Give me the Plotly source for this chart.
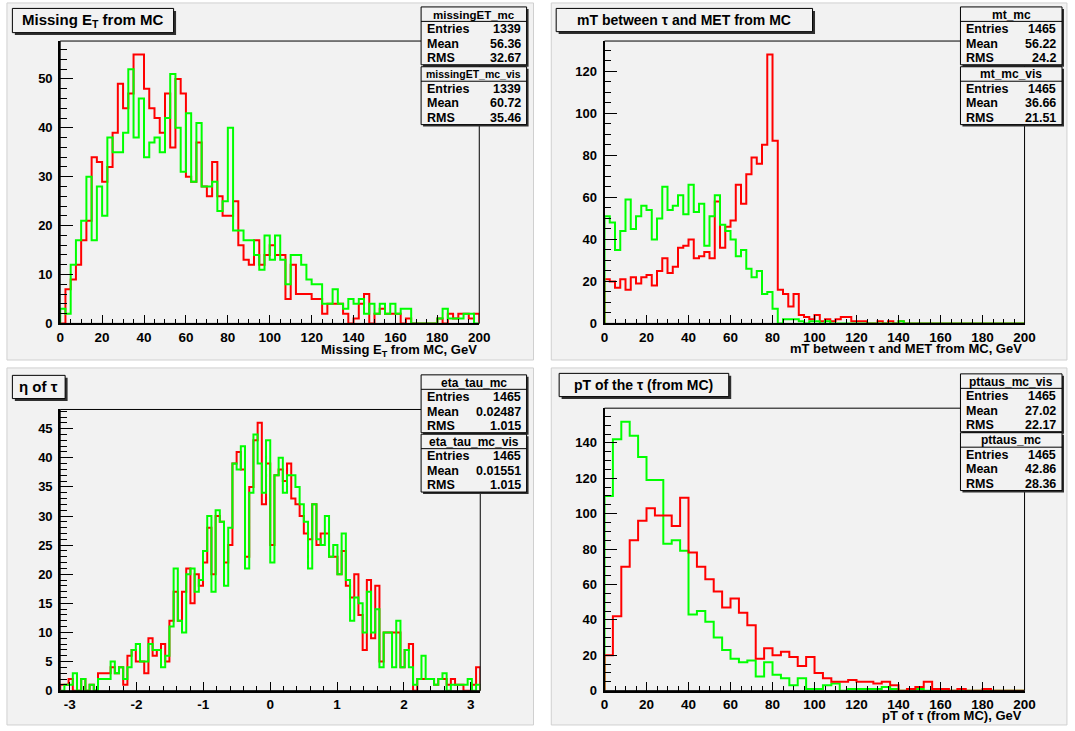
import plotly.graph_objects as go

W, H = 1075, 731

# ---------------- data ----------------
met_edges_range = (0.0, 200.0)
missingET_mc = [0, 7, 9, 12, 17, 21, 34, 33, 29, 32, 39, 49, 44, 47, 55, 55, 48, 44, 42, 39,
                47, 36, 50, 47, 30, 29, 37, 28, 26, 33, 26, 22, 22, 25, 16, 13, 12, 17, 12, 14,
                16, 14, 14, 5, 12, 6, 6, 6, 5, 5, 2, 4, 4, 4, 2, 0, 1, 4, 6, 0,
                2, 3, 2, 2, 2, 0, 1, 0, 0, 0, 0, 0, 1, 0, 2, 1, 2, 2, 1, 2]
missingET_mc_vis = [3, 2, 12, 17, 21, 30, 17, 28, 22, 38, 35, 35, 39, 52, 38, 46, 34, 37, 38, 35,
                    42, 51, 40, 31, 43, 29, 41, 28, 28, 29, 23, 25, 40, 19, 19, 17, 17, 14, 11, 18,
                    13, 18, 13, 8, 14, 14, 12, 9, 8, 8, 4, 4, 7, 4, 3, 5, 4, 5, 2, 4,
                    2, 4, 2, 4, 2, 3, 3, 0, 0, 0, 0, 0, 1, 3, 1, 1, 1, 2, 2, 0]

mt_range = (0.0, 200.0)
mt_mc = [21, 20, 17, 21, 16, 22, 19, 22, 23, 18, 25, 31, 24, 27, 36, 37, 40, 31, 32, 34,
         31, 58, 36, 46, 49, 66, 57, 71, 79, 76, 85, 128, 87, 16, 14, 8, 14, 4, 3, 2,
         4, 1, 2, 1, 2, 3, 3, 1, 1, 1, 0, 0, 1, 0, 1, 0, 1, 0, 0, 0,
         0, 0, 0, 0, 0, 0, 0, 0, 0, 0, 0, 0, 0, 0, 0, 0, 0, 0, 0, 0]
mt_mc_vis = [51, 48, 35, 44, 59, 45, 51, 56, 54, 40, 50, 65, 54, 56, 61, 52, 66, 53, 57, 37,
             51, 61, 47, 44, 40, 32, 35, 26, 22, 25, 14, 15, 7, 0, 2, 2, 2, 1, 0, 1,
             1, 0, 1, 0, 0, 0, 0, 0, 0, 0, 0, 0, 0, 0, 0, 0, 1, 0, 0, 0,
             0, 0, 0, 0, 0, 0, 0, 0, 0, 0, 0, 0, 0, 0, 0, 0, 0, 0, 0, 0]

eta_range = (-3.14159, 3.14159)
eta_tau_mc = [1, 1, 2, 0, 0, 2, 0, 1, 0, 3, 3, 3, 4, 3, 4, 1, 6, 7, 5, 5,
              3, 9, 6, 7, 8, 5, 12, 17, 12, 17, 21, 15, 20, 18, 22, 28, 20, 30, 29, 22,
              25, 39, 41, 38, 23, 35, 43, 46, 32, 39,
              25, 37, 38, 36, 39, 33, 32, 30, 27, 26, 32, 25, 27, 27, 23, 23, 20, 24, 18, 16,
              20, 13, 7, 19, 9, 18, 5, 10, 10, 10, 10, 4, 7, 8, 0, 2, 2, 2, 2, 1,
              2, 2, 1, 2, 1, 1, 0, 0, 1, 4]
eta_tau_mc_vis = [0, 1, 1, 3, 0, 2, 0, 1, 0, 2, 2, 2, 5, 3, 4, 2, 4, 7, 8, 5,
                  5, 8, 7, 7, 4, 6, 11, 21, 12, 10, 20, 21, 17, 19, 24, 30, 17, 31, 29, 18,
                  28, 39, 38, 42, 21, 34, 44, 39, 34, 43,
                  22, 37, 40, 34, 37, 37, 35, 32, 29, 21, 32, 26, 25, 30, 23, 25, 20, 27, 19, 12,
                  16, 15, 10, 17, 10, 14, 4, 10, 10, 4, 12, 4, 7, 4, 1, 2, 6, 2, 2, 1,
                  2, 3, 0, 1, 1, 1, 1, 2, 0, 1]

pt_range = (0.0, 200.0)
pttaus_mc = [20, 42, 70, 85, 96, 103, 99, 99, 93, 109, 78, 70, 63, 56, 47, 52, 44, 37, 18, 24,
             20, 22, 19, 14, 19, 10, 7, 5, 5, 6, 5, 5, 4, 5, 3, 0, 1, 2, 5, 1,
             1, 0, 1, 0, 0, 1, 0, 0, 0, 0]
pttaus_mc_vis = [110, 142, 152, 144, 132, 119, 119, 83, 85, 79, 43, 45, 39, 30, 23, 18, 16, 17, 8, 16,
                 9, 7, 3, 7, 1, 1, 3, 4, 0, 1, 1, 1, 1, 2, 1, 0, 0, 1, 0, 0,
                 0, 0, 0, 0, 0, 0, 0, 0, 0, 0]

stats = {
    "missingET_mc": ("1339", "56.36", "32.67"),
    "missingET_mc_vis": ("1339", "60.72", "35.46"),
    "mt_mc": ("1465", "56.22", "24.2"),
    "mt_mc_vis": ("1465", "36.66", "21.51"),
    "eta_tau_mc": ("1465", "0.02487", "1.015"),
    "eta_tau_mc_vis": ("1465", "0.01551", "1.015"),
    "pttaus_mc_vis": ("1465", "27.02", "22.17"),
    "pttaus_mc": ("1465", "42.86", "28.36"),
}

RED = "#ff0000"
GREEN = "#00ff00"
BG = "#f2f2f2"
FONT = "Liberation Sans"


def fx(x):
    return x / W


def fy(y):
    return 1 - y / H


def hist_xy(vals, rng):
    n = len(vals)
    lo, hi = rng
    w = (hi - lo) / n
    edges = [lo + i * w for i in range(n + 1)]
    xs = [edges[0]] + edges + [edges[-1]]
    ys = [0] + list(vals) + [vals[-1], 0]
    return xs, ys


fig = go.Figure()
shapes = []
annotations = []

# pads
pads = [(3, 3, 537, 364), (555, 3, 1078, 364), (3, 372, 537, 733), (555, 372, 1078, 733)]
for (x0, y0, x1, y1) in pads:
    shapes.append(dict(type="rect", xref="paper", yref="paper", x0=fx(x0), x1=fx(x1),
                       y0=fy(y1), y1=fy(y0), fillcolor=BG, line=dict(color="#d0d0d0", width=1),
                       layer="below"))

panels = [
    dict(ax="", dom_x=(57, 482), dom_y=(41.5, 327), xr=met_edges_range, yr=(0, 57.75),
         series=[(missingET_mc, RED), (missingET_mc_vis, GREEN)], xd=20, xm=5, yd=10, ym=2),
    dict(ax="2", dom_x=(609, 1035), dom_y=(41.5, 327), xr=mt_range, yr=(0, 134.4),
         series=[(mt_mc, RED), (mt_mc_vis, GREEN)], xd=20, xm=5, yd=20, ym=5),
    dict(ax="3", dom_x=(57, 483), dom_y=(414, 698.3), xr=eta_range, yr=(0, 48.3),
         series=[(eta_tau_mc, RED), (eta_tau_mc_vis, GREEN)], xd=1, xm=0.2, yd=5, ym=1),
    dict(ax="4", dom_x=(609, 1035), dom_y=(412.7, 698.3), xr=pt_range, yr=(0, 159.6),
         series=[(pttaus_mc_vis, GREEN), (pttaus_mc, RED)], xd=20, xm=5, yd=20, ym=5),
]

layout_axes = {}
for p in panels:
    a = p["ax"]
    for vals, col in p["series"]:
        xs, ys = hist_xy(vals, p["xr"])
        fig.add_trace(go.Scatter(x=xs, y=ys, mode="lines", line=dict(color=col, width=2, shape="hv"),
                                 xaxis="x" + a, yaxis="y" + a, showlegend=False, hoverinfo="skip"))
    x0, x1 = p["dom_x"]
    y0, y1 = p["dom_y"]
    xlen_major = 0.03 * (y1 - y0)
    ylen_major = 0.03 * (x1 - x0)
    xa = dict(domain=[fx(x0), fx(x1)], range=list(p["xr"]), anchor="y" + a,
              showline=True, linecolor="black", linewidth=2, mirror=False,
              ticks="inside", ticklen=xlen_major, tickcolor="black", tickwidth=1,
              showgrid=False, zeroline=False, fixedrange=True, ticklabelstandoff=0,
              tickfont=dict(family=FONT, size=13.5, color="black", weight="bold"),
              minor=dict(ticks="inside", ticklen=xlen_major / 2, tickcolor="black",
                         tickmode="linear", tick0=0, dtick=p["xm"], showgrid=False))
    if a == "3":
        xa.update(tickmode="array", tickvals=[-3, -2, -1, 0, 1, 2, 3],
                  ticktext=["-3", "-2", "-1", "0", "1", "2", "3"])
    else:
        xa.update(tickmode="linear", tick0=0, dtick=p["xd"])
    ya = dict(domain=[fy(y1), fy(y0)], range=list(p["yr"]), anchor="x" + a,
              showline=True, linecolor="black", linewidth=2, mirror=False,
              ticks="inside", ticklen=ylen_major, tickcolor="black", tickwidth=1,
              tickmode="linear", tick0=0, dtick=p["yd"],
              showgrid=False, zeroline=False, fixedrange=True, ticklabelstandoff=3,
              tickfont=dict(family=FONT, size=13, color="black", weight="bold"),
              minor=dict(ticks="inside", ticklen=ylen_major / 2, tickcolor="black",
                         tickmode="linear", tick0=0, dtick=p["ym"], showgrid=False))
    layout_axes["xaxis" + a] = xa
    layout_axes["yaxis" + a] = ya
    shapes.append(dict(type="rect", xref="paper", yref="paper", x0=fx(x0), x1=fx(x1),
                       y0=fy(y1), y1=fy(y0), line=dict(color="black", width=1), layer="above"))


def pave(x0, y0, x1, y1, shadow=2.5):
    shapes.append(dict(type="rect", xref="paper", yref="paper", x0=fx(x0 + shadow), x1=fx(x1 + shadow),
                       y0=fy(y1 + shadow), y1=fy(y0 + shadow), fillcolor="#303030",
                       line=dict(width=0), layer="above"))
    shapes.append(dict(type="rect", xref="paper", yref="paper", x0=fx(x0), x1=fx(x1),
                       y0=fy(y1), y1=fy(y0), fillcolor=BG,
                       line=dict(color="black", width=1), layer="above"))


def text(x, y, s, size, anchor="center", weight="bold", family=FONT):
    annotations.append(dict(x=fx(x), y=fy(y), xref="paper", yref="paper", text=s, showarrow=False,
                            xanchor=anchor, yanchor="middle", borderpad=0,
                            font=dict(family=family, size=size, color="black", weight=weight)))


def statbox(name, x0, x1, y0, y1, hsize=12):
    pave(x0, y0, x1, y1, shadow=2)
    rowh = (y1 - y0) / 4.0
    shapes.append(dict(type="line", xref="paper", yref="paper", x0=fx(x0), x1=fx(x1),
                       y0=fy(y0 + rowh), y1=fy(y0 + rowh), line=dict(color="black", width=1),
                       layer="above"))
    ent, mean, rms = stats[name]
    text((x0 + x1) / 2, y0 + rowh * 0.5 + 0.5, name, hsize)
    for i, (lab, val) in enumerate([("Entries", ent), ("Mean", mean), ("RMS", rms)]):
        yy = y0 + rowh * (1.5 + i) + 0.5
        text(x0 + 5, yy, lab, 12.5, anchor="left")
        text(x1 - 5, yy, val, 12.5, anchor="right")


# titles
pave(8.5, 8.5, 172, 33)
text(90, 20.5, "Missing E<sub>T</sub> from MC", 15)
pave(560, 8.5, 820, 32)
text(690, 20, "mT between \u03c4 and MET from MC", 14)
pave(8.5, 379.5, 62, 403)
text(35, 391, "\u03b7 of \u03c4", 15)
pave(563, 377.5, 735, 401)
text(649, 389, "pT of the \u03c4 (from MC)", 14)

# stat boxes
statbox("missingET_mc", 423, 530, 7, 65.5, hsize=11.5)
statbox("missingET_mc_vis", 423, 530, 67.5, 126, hsize=10.5)
statbox("mt_mc", 970, 1073, 7, 65.5)
statbox("mt_mc_vis", 970, 1073, 67.5, 126)
statbox("eta_tau_mc", 423, 530, 379, 437.5)
statbox("eta_tau_mc_vis", 423, 530, 439, 497.5)
statbox("pttaus_mc_vis", 970, 1073, 378, 436.5)
statbox("pttaus_mc", 970, 1073, 437.5, 496)

# axis titles
text(481, 354, "Missing E<sub>T</sub> from MC, GeV", 13, anchor="right")
text(1033, 352, "mT between \u03c4 and MET from MC, GeV", 13, anchor="right")
text(1033, 723, "pT of \u03c4 (from MC), GeV", 13, anchor="right")

fig.update_layout(width=W, height=H, margin=dict(l=0, r=0, t=0, b=0),
                  paper_bgcolor="white", plot_bgcolor="rgba(0,0,0,0)",
                  showlegend=False, shapes=shapes, annotations=annotations, **layout_axes)

fig.write_html("out.html",
               post_script="document.body.style.margin='0px';document.body.style.overflow='hidden';")
